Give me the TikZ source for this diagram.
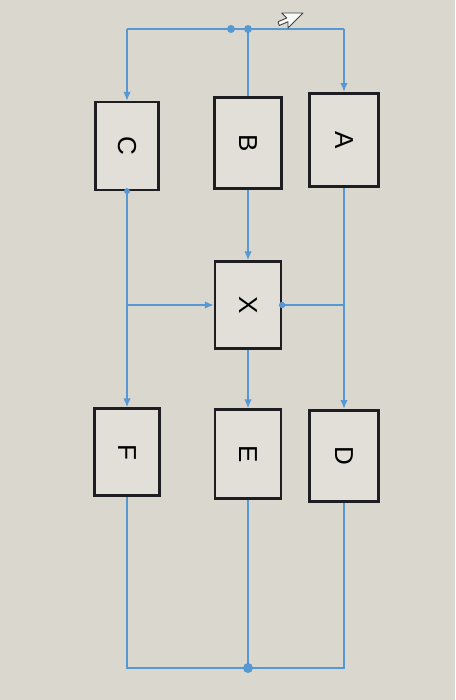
\documentclass[tikz,border=0pt]{standalone}
\usepackage{fontspec}
\setmainfont{Liberation Sans}
\usepackage{graphicx}
\usetikzlibrary{arrows.meta}
\definecolor{bgc}{RGB}{218,215,206}
\definecolor{wirec}{RGB}{86,152,212}
\definecolor{boxc}{RGB}{30,30,34}
\tikzset{
  box/.style={draw=boxc, line width=2.2pt, rectangle, inner sep=0pt, fill=bgc!80!white,
    font=\fontsize{26}{30}\selectfont},
  boldbox/.style={box, line width=2.9pt},
  wire/.style={draw=wirec, line width=2pt},
  tip/.style={-{Latex[length=9pt,width=7.5pt]}},
  jdot/.style={fill=wirec, draw=none}
}
\begin{document}
\begin{tikzpicture}[x=1pt,y=-1pt]
\fill[bgc] (0,0) rectangle (455,700);
\useasboundingbox (0,0) rectangle (455,700);
% boxes
\node[box, minimum width=63pt, minimum height=88pt] (C) at (127,146) {\rotatebox{-90}{C}};
\node[box, minimum width=67pt, minimum height=91pt] (B) at (248,143) {\rotatebox{-90}{B}};
\node[boldbox, minimum width=69pt, minimum height=93pt] (A) at (344,140) {\rotatebox{-90}{A}};
\node[box, minimum width=66pt, minimum height=87pt] (X) at (248,305) {\rotatebox{-90}{X}};
\node[box, minimum width=65pt, minimum height=87pt] (F) at (127,452) {\rotatebox{-90}{F}};
\node[box, minimum width=66pt, minimum height=89pt] (E) at (248,454) {\rotatebox{-90}{E}};
\node[boldbox, minimum width=69pt, minimum height=91pt] (D) at (344,456) {\rotatebox{-90}{D}};
% coordinates
\coordinate (tl) at (127,29);
\coordinate (tr) at (344,29);
\coordinate (j1) at (231,29);
\coordinate (j2) at (248,29);
\coordinate (cl) at (127,305);
\coordinate (cr) at (344,305);
\coordinate (bl) at (127,668);
\coordinate (bm) at (248,668);
\coordinate (br) at (344,668);
% top wiring
\draw[wire] (tl) -- (tr);
\draw[wire,tip] (tl) -- (C.north);
\draw[wire,tip] (tr) -- (A.north);
\draw[wire] (j2) -- (B.north);
\fill[jdot] (j1) circle (4pt);
\fill[jdot] (j2) circle (4pt);
% middle wiring
\draw[wire,tip] (C.south) -- (F.north);
\fill[jdot] (C.south) circle (3pt);
\draw[wire,tip] (cl) -- (X.west);
\draw[wire,tip] (B.south) -- (X.north);
\draw[wire,tip] (X.south) -- (E.north);
\draw[wire,tip] (A.south) -- (D.north);
\draw[wire] (cr) -- (X.east);
\fill[jdot] (X.east) circle (3.2pt);
% bottom wiring
\draw[wire] (F.south) -- (bl) -- (br) -- (D.south);
\draw[wire] (E.south) -- (bm);
\fill[jdot] (bm) circle (5pt);
% mouse cursor
\draw[draw=black!75, fill=white!85!bgc, line width=0.9pt, line join=round, shift={(303,13)}, scale=1.25]
  (0,0) -- (-17,0) -- (-13,4) -- (-20,7) -- (-19,10) -- (-12,7) -- (-12,12) -- cycle;
\end{tikzpicture}
\end{document}
